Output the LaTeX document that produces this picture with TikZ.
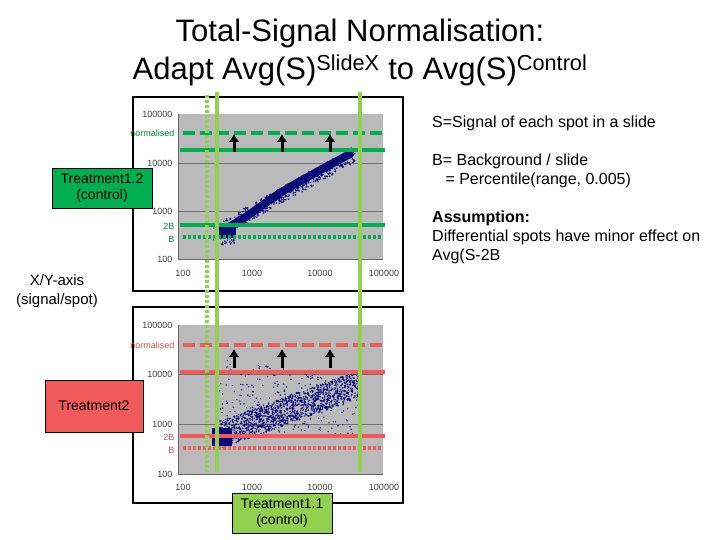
\documentclass[tikz,border=0pt]{standalone}
\usepackage{fontspec}
\setmainfont{Liberation Sans}
\begin{document}
\begin{tikzpicture}[x=1pt,y=-1pt,
  frame/.style={draw=black,line width=1.2pt,fill=white},
  plotbg/.style={fill=black!27},
  grid/.style={draw=black!55,line width=0.5pt},
  tick/.style={font=\fontsize{9}{10}\selectfont,text=black!75},
  gsolid/.style={draw=tgreen,line width=3.2pt},
  gdash/.style={draw=tgreen,line width=3.2pt,dash pattern=on 12pt off 5pt},
  gdot/.style={draw=tgreen,line width=3.2pt,dash pattern=on 3pt off 2pt},
  rsolid/.style={draw=tred,line width=3.2pt},
  rdash/.style={draw=tred,line width=3.2pt,dash pattern=on 12pt off 5pt},
  rdot/.style={draw=tred,line width=3.2pt,dash pattern=on 3pt off 2pt},
  vsolid/.style={draw=lgreen,line width=3.2pt},
  vdot/.style={draw=lgreen,line width=3.2pt,dash pattern=on 3pt off 2pt},
  up/.style={-{Latex[length=8pt,width=11pt]},line width=3pt,black},
  lbox/.style={draw=black,line width=0.8pt,minimum width=100pt,minimum height=40pt,align=center,font=\fontsize{14}{16}\selectfont,inner sep=2pt},
  txt/.style={anchor=west,font=\fontsize{16}{18}\selectfont,inner sep=0pt}]
\usetikzlibrary{arrows.meta}
\definecolor{lgreen}{RGB}{146,208,80}
\definecolor{tgreen}{RGB}{0,176,80}
\definecolor{tred}{RGB}{240,90,90}
\definecolor{navy}{RGB}{10,10,120}
\useasboundingbox (0,0) rectangle (720,540);
\fill[white] (0,0) rectangle (720,540);
% title
\node (t1) at (360,33) {\fontsize{31}{34}\selectfont Total-Signal Normalisation:};
\node (t2) at (360,70) {\fontsize{31}{34}\selectfont Adapt Avg(S)\textsuperscript{SlideX} to Avg(S)\textsuperscript{Control}};
% top chart
\draw[frame] (133,97) rectangle (403,291);
\fill[plotbg] (178,114) rectangle (383,259);
\draw[grid] (178,163) -- (383,163) (178,211) -- (383,211);
\draw[black!60] (178,114) -- (178,259) -- (383,259);
\node[tick,anchor=east] at (176,114) {100000};
\node[tick,anchor=east] at (176,163) {10000};
\node[tick,anchor=east] at (176,211) {1000};
\node[tick,anchor=east] at (176,259) {100};
\node[tick] at (183,273) {100};
\node[tick] at (252,273) {1000};
\node[tick] at (320,273) {10000};
\node[tick] at (384,273) {100000};
\pgfmathsetseed{7}
\draw[navy,line width=8pt,line cap=round] plot[smooth] coordinates {(224,230) (247,216) (280,193) (315,173) (350,154)};
\fill[navy] (216,224) rectangle (236,238);
\foreach \i in {1,...,500}{
  \pgfmathsetmacro{\t}{rnd}
  \pgfmathsetmacro{\px}{220+135*\t}
  \pgfmathsetmacro{\py}{230-76*\t+8*rand}
  \fill[navy] (\px,\py) circle (0.9pt);
}
\foreach \i in {1,...,60}{
  \fill[navy] ({212+rnd*24},{224+rnd*22}) circle (0.9pt);
}
\draw[gdash] (183,133) -- (383,133);
\draw[gsolid] (180,150) -- (385,150);
\draw[gsolid] (180,225) -- (385,225);
\draw[gdot] (183,237) -- (383,237);
\node[tick,text=tgreen!80!black,anchor=east] at (178,133) {normalised};
\node[tick,text=tgreen!80!black,anchor=east] at (178,226) {2B};
\node[tick,text=tgreen!80!black,anchor=east] at (178,239) {B};
\foreach \xx in {234,282,330}{\draw[up] (\xx,152) -- (\xx,134);}
% bottom chart
\draw[frame] (133,307) rectangle (403,503);
\fill[plotbg] (178,325) rectangle (383,474);
\draw[grid] (178,374) -- (383,374) (178,424) -- (383,424);
\draw[black!60] (178,325) -- (178,474) -- (383,474);
\node[tick,anchor=east] at (176,325) {100000};
\node[tick,anchor=east] at (176,374) {10000};
\node[tick,anchor=east] at (176,424) {1000};
\node[tick,anchor=east] at (176,474) {100};
\node[tick] at (183,487) {100};
\node[tick] at (252,487) {1000};
\node[tick] at (320,487) {10000};
\node[tick] at (384,487) {100000};
\fill[navy] (212,428) rectangle (232,446);
\foreach \i in {1,...,1400}{
  \pgfmathsetmacro{\t}{rnd}
  \pgfmathsetmacro{\px}{217+143*\t}
  \pgfmathsetmacro{\py}{436-52*\t+14*rand}
  \fill[navy] (\px,\py) circle (0.8pt);
}
\foreach \i in {1,...,300}{
  \pgfmathsetmacro{\t}{rnd}
  \pgfmathsetmacro{\u}{rnd}
  \pgfmathsetmacro{\px}{217+143*\t}
  \pgfmathsetmacro{\py}{436-(436-358)*\u*(1-0.3*\t)}
  \fill[navy] (\px,\py) circle (0.8pt);
}
\draw[rdash] (183,345) -- (383,345);
\draw[rsolid] (180,372) -- (385,372);
\draw[rsolid] (180,436) -- (385,436);
\draw[rdot] (183,448) -- (383,448);
\node[tick,text=tred!90!black,anchor=east] at (178,345) {normalised};
\node[tick,text=tred!90!black,anchor=east] at (178,437) {2B};
\node[tick,text=tred!90!black,anchor=east] at (178,450) {B};
\foreach \xx in {234,282,330}{\draw[up] (\xx,368) -- (\xx,349);}
% vertical lines
\draw[vdot] (207,95) -- (207,472);
\draw[vsolid] (217,92) -- (217,472);
\draw[vsolid] (360,92) -- (360,472);
% label boxes
\node[lbox,fill=tgreen] (tr12) at (102,188) {Treatment1.2\\(control)};
\node[lbox,fill=tred,minimum width=98pt,minimum height=52pt] (tr2) at (94,406) {Treatment2};
\node[lbox,fill=lgreen] (tr11) at (282,513) {Treatment1.1\\(control)};
% texts
\node[txt] (s) at (432,123) {S=Signal of each spot in a slide};
\node[txt] (b1) at (432,161) {B= Background / slide};
\node[txt] (b2) at (432,180) {\ \ \ = Percentile(range, 0.005)};
\node[txt] (a1) at (432,218) {\bfseries Assumption:};
\node[txt] (a2) at (432,237) {Differential spots have minor effect on};
\node[txt] (a3) at (432,256) {Avg(S-2B};
\node[align=center,font=\fontsize{15}{19}\selectfont] (xy) at (57,291) {X/Y-axis\\(signal/spot)};
\end{tikzpicture}
\end{document}
